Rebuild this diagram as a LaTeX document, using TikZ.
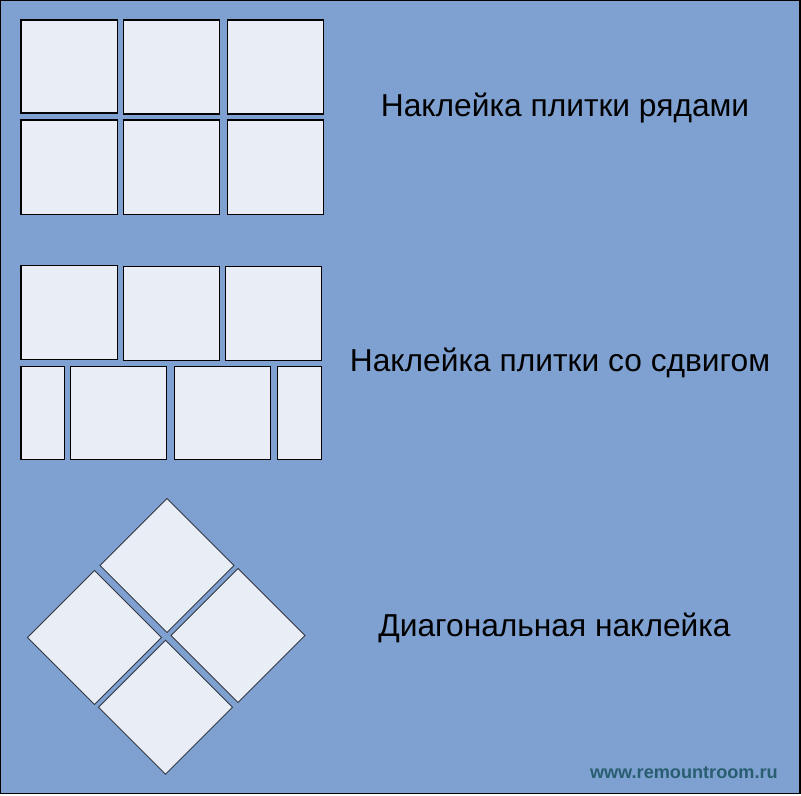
\documentclass[tikz,border=0pt]{standalone}
\usepackage{fontspec}
\setmainfont{Liberation Sans}
\definecolor{wallblue}{RGB}{127,161,209}
\definecolor{tilefill}{RGB}{233,237,246}
\definecolor{siteteal}{RGB}{40,94,112}
\tikzset{
  tile/.style={draw=black,line width=0.9,fill=tilefill},
  dtile/.style={draw={rgb,255:red,50;green,55;blue,65},line width=0.7,fill=tilefill},
  caption/.style={font=\fontsize{23.8pt}{28pt}\selectfont,inner sep=0pt,anchor=base}
}
\begin{document}
\begin{tikzpicture}[x=0.75pt,y=0.75pt,yscale=-1,xscale=1]
%set diagram size
\path[use as bounding box] (0,0) rectangle (801,796);

%Shape: Wall
\draw [fill=wallblue,line width=1.2] (0.5,0.5) rectangle (800,793.5);

%Shape: Rectangle - tiles in rows
\draw [tile] (21,20) rectangle (117.5,113);
\draw [tile] (123.5,20) rectangle (219.5,114);
\draw [tile] (227.5,20) rectangle (323.5,114);
\draw [tile] (21,120) rectangle (117.5,214.5);
\draw [tile] (123.5,120) rectangle (219.5,214.5);
\draw [tile] (227.5,120) rectangle (323.5,214.5);

%Shape: Rectangle - tiles with offset
\draw [tile] (21,265.5) rectangle (117.5,359.5);
\draw [tile] (123.5,266.5) rectangle (219.5,360.5);
\draw [tile] (225.5,266.5) rectangle (321.5,360.5);
\draw [tile] (21,366.5) rectangle (64.5,459.5);
\draw [tile] (70.5,366.5) rectangle (166.5,459.5);
\draw [tile] (174.5,366.5) rectangle (270.5,459.5);
\draw [tile] (277.5,366.5) rectangle (321.5,459.5);

%Shape: Diamond - diagonal tiles
\foreach \cx/\cy in {167/565.5, 94.5/637.5, 238/635.5, 165.5/707.3}
  \draw [dtile] (\cx,\cy-67) -- (\cx+67,\cy) -- (\cx,\cy+67) -- (\cx-67,\cy) -- cycle;

% Text Node
\node [caption] (rows) at (565,116.7) {Наклейка плитки рядами};
% Text Node
\node [caption] (shift) at (560,371.7) {Наклейка плитки со сдвигом};
% Text Node
\node [caption] (diag) at (554.5,636) {Диагональная наклейка};
% Text Node
\node [font=\bfseries\fontsize{13.6pt}{16pt}\selectfont,text=siteteal,inner sep=0pt,anchor=base east] (site) at (778,778) {www.remountroom.ru};
\end{tikzpicture}
\end{document}
